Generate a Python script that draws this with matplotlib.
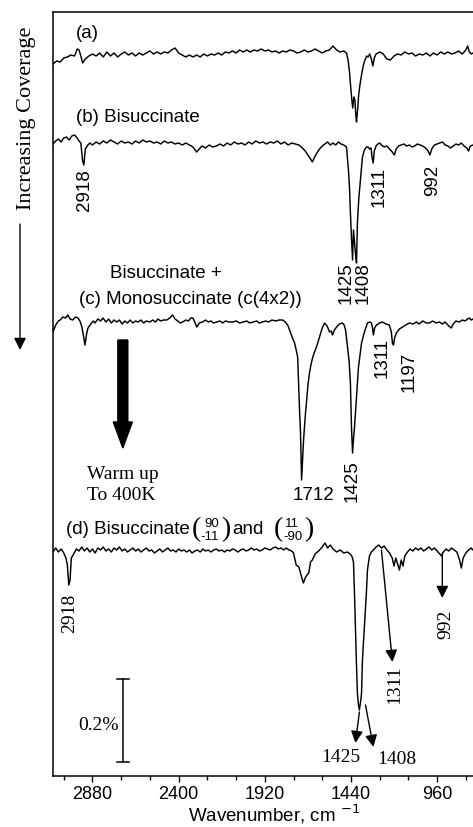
import matplotlib
matplotlib.use("Agg")
import matplotlib.pyplot as plt
import numpy as np
from matplotlib.patches import FancyArrow, FancyArrowPatch

plt.rcParams['font.family'] = ['Liberation Sans', 'DejaVu Sans']
SANS = 'Liberation Sans'
SERIF = 'Liberation Serif'

# ---- spectra: wavenumber (cm-1) and signal relative to each baseline ----
wn_a = [3100, 3080, 3060, 3040, 3020, 3000, 2980, 2965, 2955, 2945, 2935, 2920, 2900, 2880,
        2860, 2840, 2820, 2800, 2780, 2760, 2740, 2720, 2700, 2680, 2660, 2640, 2620, 2600,
        2580, 2560, 2540, 2520, 2500, 2480, 2460, 2440, 2420, 2400, 2380, 2360, 2340, 2320,
        2300, 2280, 2260, 2240, 2220, 2200, 2180, 2160, 2140, 2120, 2100, 2080, 2060, 2040,
        2020, 2000, 1980, 1960, 1940, 1920, 1900, 1880, 1860, 1840, 1820, 1800, 1780, 1760,
        1740, 1720, 1700, 1680, 1660, 1640, 1620, 1600, 1580, 1560, 1540, 1520, 1500, 1480,
        1465, 1456, 1448, 1441, 1435, 1430, 1424, 1418, 1413, 1409, 1403, 1397, 1390, 1382,
        1372, 1362, 1352, 1345, 1335, 1325, 1318, 1310, 1300, 1280, 1260, 1240, 1220, 1200,
        1180, 1160, 1140, 1120, 1100, 1080, 1060, 1040, 1020, 1000, 980, 960, 940, 920, 900,
        880, 860, 840, 820, 800, 790, 780, 770, 760]
sig_a = [-6, -3, -4, 0, 1, 3, 2, 9, 8, 2, -5, -1, 2, 4,
         2, 5, 1, 6, 2, 5, 1, 4, 6, 3, 5, 2, 5, 3,
         5, 7, 4, 6, 4, 6, 5, 8, 10, 5, 3, 1, 3, 1,
         3, 1, 4, 2, 4, 3, 5, 3, 6, 5, 7, 5, 8, 6,
         8, 6, 8, 7, 9, 7, 8, 6, 7, 5, 7, 6, 8, 7,
         5, 6, 8, 6, 7, 9, 7, 5, 7, 8, 12, 8, 6, 7,
         5, -2, -14, -30, -42, -50, -39, -42, -57, -64, -52, -37, -27, -18,
         -8, -2, 2, 1, 4, -2, -8, 0, 4, 6, 4, -1, -2, 2,
         4, 3, 6, 4, 5, 2, 4, 3, 5, 2, 5, 3, 6, 4, 6,
         4, 5, 7, 4, 8, 12, 6, 4, 5]

wn_b = [3100, 3085, 3070, 3055, 3040, 3025, 3010, 2995, 2980, 2965, 2955, 2945, 2935, 2928,
        2920, 2910, 2895, 2880, 2860, 2840, 2820, 2800, 2780, 2760, 2740, 2720, 2700, 2680,
        2660, 2640, 2620, 2600, 2580, 2560, 2540, 2520, 2500, 2480, 2460, 2440, 2420, 2400,
        2380, 2360, 2340, 2320, 2300, 2285, 2270, 2250, 2230, 2210, 2190, 2170, 2150, 2130,
        2110, 2090, 2070, 2050, 2030, 2010, 1990, 1970, 1950, 1930, 1910, 1890, 1870, 1850,
        1830, 1810, 1790, 1770, 1750, 1730, 1710, 1695, 1680, 1665, 1655, 1645, 1630, 1615,
        1600, 1585, 1570, 1555, 1540, 1525, 1510, 1495, 1480, 1465, 1454, 1448, 1443, 1437,
        1431, 1426, 1420, 1414, 1409, 1404, 1396, 1387, 1376, 1365, 1354, 1345, 1336, 1328,
        1322, 1316, 1310, 1300, 1290, 1280, 1270, 1255, 1240, 1225, 1210, 1198, 1188, 1175,
        1160, 1145, 1130, 1115, 1100, 1085, 1070, 1055, 1040, 1025, 1010, 1000, 990, 975,
        960, 945, 930, 915, 900, 885, 870, 855, 840, 825, 810, 795, 785, 775, 760]
sig_b = [-1, 2, 4, 1, 5, 6, 3, 7, 8, 5, 2, 0, -18, -22,
         -6, -3, 0, -2, 1, -1, 2, 0, 3, 1, -1, 2, 0, 1,
         -1, 2, 0, 3, 1, 2, 0, 1, -1, 2, 0, 1, -1, 0,
         -2, 0, -2, -4, -9, -6, -3, -5, -2, -4, -3, -1, -3, 0,
         -2, 1, -1, 0, -2, 1, -1, 2, 0, 1, -1, 1, 0, 2,
         -1, 1, -2, 0, -1, -2, -5, -8, -12, -16, -19, -15, -10, -6,
         -3, -1, 1, -2, 0, -2, 1, -1, -2, -4, -27, -45, -70, -95,
         -117, -87, -100, -112, -120, -80, -55, -37, -14, -7, -4, -4, -6, -5,
         -15, -20, -8, -3, -1, 0, -2, -4, -3, -6, -9, -12, -6, -3,
         -2, -1, -3, -2, -4, -3, -1, -2, -3, -5, -8, -12, -6, -2,
         -1, 0, 1, -2, -3, -5, -3, -1, -2, 0, -3, -5, -8, -3, -2]

wn_c = [3100, 3085, 3070, 3060, 3045, 3030, 3017, 3005, 2990, 2975, 2961, 2950, 2939, 2930,
        2922, 2913, 2905, 2890, 2875, 2866, 2850, 2835, 2822, 2805, 2790, 2775, 2760, 2744,
        2730, 2715, 2700, 2685, 2670, 2655, 2640, 2625, 2610, 2595, 2580, 2560, 2545, 2530,
        2515, 2500, 2485, 2466, 2450, 2433, 2420, 2405, 2390, 2377, 2360, 2345, 2333, 2321,
        2310, 2299, 2285, 2266, 2250, 2235, 2220, 2205, 2188, 2170, 2155, 2140, 2120, 2099,
        2080, 2060, 2040, 2020, 2004, 1985, 1965, 1950, 1932, 1915, 1900, 1880, 1860, 1840,
        1821, 1805, 1790, 1782, 1770, 1754, 1745, 1737, 1732, 1726, 1721, 1715, 1710, 1704,
        1695, 1687, 1679, 1671, 1662, 1654, 1643, 1632, 1622, 1615, 1600, 1587, 1573, 1559,
        1550, 1543, 1532, 1520, 1505, 1487, 1478, 1470, 1459, 1450, 1443, 1437, 1431, 1425,
        1420, 1409, 1398, 1381, 1365, 1348, 1335, 1326, 1320, 1315, 1308, 1298, 1280, 1265,
        1245, 1226, 1215, 1209, 1203, 1197, 1187, 1170, 1153, 1135, 1115, 1095, 1075, 1060,
        1040, 1020, 1003, 985, 965, 948, 930, 915, 895, 881, 870, 855, 836, 820,
        805, 790, 781, 770, 760]
sig_c = [-10, -3, 1, 2, 5, 4, 7, 3, 2, 5, 4, 1, -5, -14,
         -23, -12, -6, -2, 1, -1, 3, 1, 4, 0, 3, -1, 2, 0,
         2, -2, 1, -1, 2, -1, 1, 0, 2, -1, 1, 0, 2, 0,
         3, 1, 2, 2, 4, 7, 3, 1, -1, 0, 2, 1, 4, 4,
         0, -5, -1, 0, 2, 0, 1, -1, 0, 1, -1, 1, 0, 0,
         1, -1, 0, 1, -1, 0, 1, -1, 0, 1, 0, 2, 1, 2,
         2, 0, -4, -8, -14, -21, -28, -35, -61, -90, -111, -158, -140, -118,
         -95, -78, -62, -51, -42, -36, -30, -25, -19, -15, -6, -1, -4, -10,
         -9, -13, -8, -5, -2, -1, -3, -8, -25, -40, -61, -105, -131, -115,
         -105, -75, -45, -21, -10, -1, 0, -1, -6, -13, -6, -3, -1, 0,
         -2, -3, -10, -21, -23, -16, -11, -7, -5, -3, -1, -2, 0, -2,
         1, -1, -1, 1, -1, 0, -2, 0, -4, -6, -2, 1, 0, 2,
         1, 3, 4, 2, 3]

wn_d = [3100, 3085, 3070, 3055, 3040, 3028, 3020, 3012, 3005, 2998, 2985, 2970, 2955, 2940,
        2925, 2910, 2895, 2880, 2865, 2850, 2835, 2820, 2805, 2790, 2775, 2760, 2745, 2730,
        2715, 2700, 2685, 2670, 2655, 2640, 2625, 2610, 2595, 2580, 2565, 2550, 2535, 2520,
        2505, 2490, 2475, 2460, 2445, 2430, 2415, 2400, 2385, 2370, 2355, 2340, 2325, 2310,
        2295, 2280, 2265, 2250, 2235, 2220, 2205, 2190, 2175, 2160, 2145, 2130, 2115, 2100,
        2085, 2070, 2055, 2040, 2025, 2010, 1995, 1980, 1965, 1950, 1935, 1920, 1905, 1890,
        1875, 1860, 1845, 1830, 1815, 1800, 1785, 1770, 1760, 1745, 1730, 1715, 1705, 1695,
        1685, 1675, 1665, 1655, 1640, 1620, 1600, 1585, 1570, 1555, 1540, 1520, 1500, 1480,
        1460, 1445, 1435, 1426, 1420, 1415, 1410, 1404, 1398, 1393, 1385, 1381, 1376, 1365,
        1354, 1348, 1337, 1326, 1315, 1300, 1285, 1270, 1255, 1240, 1225, 1210, 1200, 1190,
        1180, 1170, 1160, 1150, 1140, 1125, 1110, 1095, 1080, 1065, 1050, 1035, 1020, 1005,
        990, 975, 960, 945, 935, 925, 910, 895, 880, 865, 850, 835, 825, 815,
        800, 785, 770, 760]
sig_d = [-2, 2, -2, 1, -3, -8, -15, -35, -30, -8, -4, 1, -1, 3,
         -1, 2, -2, 1, -3, 2, 0, 3, -1, 1, -2, 2, 0, 3,
         -1, 1, -2, 0, 2, -1, 1, -2, 0, 2, -1, 0, -3, -1,
         1, -2, 0, 2, -1, 0, -2, 1, -1, 0, -2, 0, -3, -1,
         0, -2, 1, -1, 0, -2, 0, 1, -1, 0, -2, 0, -1, 1,
         0, -2, 0, 1, -1, 0, 2, 0, 1, -1, 0, 2, 1, 0,
         2, 3, 1, 2, 0, 2, 0, -1, -3, -15, -17, -27, -33, -28,
         -25, -23, -12, -10, -4, -1, 3, 7, 2, 5, 1, -2, 0, -3,
         -2, -4, -6, -12, -45, -77, -110, -143, -155, -160, -150, -143, -110, -77,
         -43, -20, -6, -2, 0, 3, 5, 2, 4, 0, -3, -8, -16, -8,
         -14, -20, -10, -16, -6, -2, 1, -1, 2, 0, 2, -1, 1, 3,
         0, 2, -1, -4, -6, -2, 1, -1, 2, 0, -2, -10, -18, -8,
         -3, 0, 2, 0]

# vertical position of each trace baseline
offsets = {'a': 718, 'b': 633, 'c': 454, 'd': 226}

major_ticks = [2880, 2400, 1920, 1440, 960]
minor_ticks = [3040, 2720, 2560, 2240, 2080, 1760, 1600, 1280, 1120, 800]

fig = plt.figure(figsize=(4.73, 8.27), dpi=100)
ax = fig.add_axes([53 / 473, 51 / 827, 420 / 473, 764 / 827])

for wn, sig, key in [(wn_a, sig_a, 'a'), (wn_b, sig_b, 'b'), (wn_c, sig_c, 'c'), (wn_d, sig_d, 'd')]:
    ax.plot(wn, offsets[key] + np.array(sig), color='k', lw=1.05)

ax.set_xlim(3100, 760)
ax.set_ylim(0, 764)
ax.set_yticks([])
ax.set_xticks(major_ticks)
ax.set_xticks(minor_ticks, minor=True)
ax.tick_params(axis='x', which='major', direction='out', length=4, width=1, labelsize=13, pad=3)
ax.tick_params(axis='x', which='minor', direction='out', length=3, width=1)
for lab in ax.get_xticklabels():
    lab.set_fontfamily(SANS)
for side in ['left', 'top', 'bottom']:
    ax.spines[side].set_linewidth(1.1)
ax.spines['right'].set_visible(False)

fig.text(274 / 473, 1 - 814 / 827, 'Wavenumber, cm $^{-1}$', ha='center', va='center',
         fontsize=13.5, family=SANS)

# trace titles
fs = 13.5
ax.text(2972, 742, '(a)', fontsize=fs, family=SANS, va='center')
ax.text(2972, 658, '(b) Bisuccinate', fontsize=fs, family=SANS, va='center')
ax.text(2783, 503, 'Bisuccinate +', fontsize=fs, family=SANS, va='center')
ax.text(2955, 477, '(c) Monosuccinate (c(4x2))', fontsize=fs, family=SANS, va='center')

# (d) title with the two matrices built from pieces
ax.text(3028, 246, '(d) Bisuccinate', fontsize=fs, family=SANS, va='center')
ax.text(2099, 246, 'and', fontsize=fs, family=SANS, va='center')
for x in [2299, 1845]:
    ax.text(x, 246, '(', fontsize=20, family=SERIF, ha='center', va='center')
for x in [2138, 1676]:
    ax.text(x, 246, ')', fontsize=20, family=SERIF, ha='center', va='center')
for x, y, s in [(2216, 252, '90'), (2227, 239, '-11'), (1766, 252, '11'), (1761, 239, '-90')]:
    ax.text(x, y, s, fontsize=9.5, family=SANS, ha='center', va='center')

# peak labels (b) and (c)
for x, y, s in [(2922, 586, '2918'), (1281, 589, '1311'), (986, 596, '992'),
                (1468, 493, '1425'), (1370, 493, '1408'),
                (1431, 295, '1425'), (1265, 418, '1311'), (1114, 404, '1197')]:
    ax.text(x, y, s, rotation=90, fontsize=fs, family=SANS, ha='center', va='center')
ax.text(1648, 281, '1712', fontsize=fs, family=SANS, ha='center', va='center')

# peak labels (d)
fsr = 14
for x, y, s in [(3005, 163, '2918'), (909, 152, '992'), (1198, 91, '1311')]:
    ax.text(x, y, s, rotation=90, fontsize=fsr, family=SERIF, ha='center', va='center')
ax.text(1498, 19, '1425', fontsize=fsr, family=SERIF, ha='center', va='center')
ax.text(1187, 16, '1408', fontsize=fsr, family=SERIF, ha='center', va='center')

arrow_kw = dict(arrowstyle='-|>,head_length=0.72,head_width=0.36', mutation_scale=10,
                color='k', lw=1.0, shrinkA=0, shrinkB=0)
for x0, y0, x1, y1 in [(1393, 64, 1415, 33), (1359, 71, 1315, 29),
                       (1270, 226, 1209, 114), (931, 223, 931, 178)]:
    ax.annotate('', xy=(x1, y1), xytext=(x0, y0), arrowprops=arrow_kw)

# warm up arrow
ax.add_patch(FancyArrow(2711, 436, 0, -108, width=55.6, head_width=106, head_length=26,
                        length_includes_head=True, color='k'))
ax.text(2911, 291, 'Warm up\nTo 400K', fontsize=fsr, family=SERIF, va='center',
        linespacing=1.25)

# scale bar
ax.plot([2711, 2711], [14, 97], color='k', lw=1.1)
ax.plot([2744, 2678], [14, 14], color='k', lw=1.1)
ax.plot([2744, 2678], [97, 97], color='k', lw=1.1)
ax.text(2844, 51, '0.2%', fontsize=fsr, family=SERIF, ha='center', va='center')

# increasing coverage
fig.text(26 / 473, 1 - 118 / 827, 'Increasing Coverage', rotation=90, fontsize=16,
         family=SERIF, ha='center', va='center')
fig.add_artist(FancyArrowPatch((20 / 473, 1 - 224 / 827), (20 / 473, 1 - 350 / 827),
                               transform=fig.transFigure, **arrow_kw))

fig.savefig('out.png', dpi=100)
